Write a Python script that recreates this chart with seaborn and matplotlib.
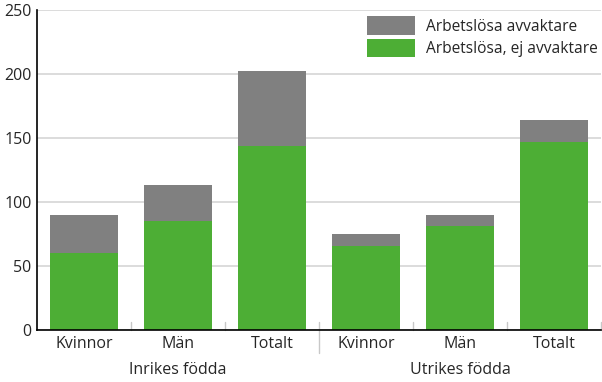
import pandas as pd
import numpy as np
import matplotlib
matplotlib.use("Agg")
import matplotlib.pyplot as plt
import seaborn as sns
from matplotlib.patches import Patch

# ==========================================
# Data
# ==========================================
groups = ["Inrikes födda", "Inrikes födda", "Inrikes födda",
          "Utrikes födda", "Utrikes födda", "Utrikes födda"]
categories = ["Kvinnor", "Män", "Totalt", "Kvinnor", "Män", "Totalt"]
ej_avvaktare = [60, 85, 144, 66, 81, 147]
avvaktare = [30, 28, 58, 9, 9, 17]

df = pd.DataFrame({
    "group": groups,
    "category": categories,
    "ej": ej_avvaktare,
    "avv": avvaktare,
})
df["key"] = df["group"] + "|" + df["category"]
df["total"] = df["ej"] + df["avv"]

green = "#4dae35"
grey = "#808080"

# ==========================================
# Plot
# ==========================================
sns.set_style("white")
plt.rcParams["font.family"] = ["Open Sans", "DejaVu Sans"]

fig = plt.figure(figsize=(6.02, 3.82), dpi=100)
ax = fig.add_axes([37 / 602, 52 / 382, 564 / 602, 320 / 382])

sns.barplot(data=df, x="key", y="total", color=grey, width=0.72,
            saturation=1, linewidth=0, ax=ax, zorder=3)
sns.barplot(data=df, x="key", y="ej", color=green, width=0.72,
            saturation=1, linewidth=0, ax=ax, zorder=4)

ax.set_xlim(-0.5, 5.5)
ax.set_ylim(0, 250)
ax.set_yticks(range(0, 251, 50))
ax.yaxis.grid(True, color="#d9d9d9", linewidth=1.3, zorder=0)
ax.set_axisbelow(True)
ax.set_xlabel("")
ax.set_ylabel("")

ax.set_xticks(range(len(df)))
ax.set_xticklabels(df["category"], fontsize=11.5)
ax.tick_params(axis="x", length=0, pad=4)
ax.tick_params(axis="y", length=0, pad=4, labelsize=11.5)

for s in ["top", "right"]:
    ax.spines[s].set_visible(False)
for s in ["left", "bottom"]:
    ax.spines[s].set_color("black")
    ax.spines[s].set_linewidth(1.2)
ax.spines["left"].set_zorder(5)
ax.spines["bottom"].set_zorder(5)

# separators between bars
trans = ax.get_xaxis_transform()
for b in [0.5, 1.5, 3.5, 4.5, 5.5]:
    ax.plot([b, b], [0, 0.025], transform=trans, color="#c8c8c8",
            linewidth=1, clip_on=False, zorder=2)
ax.plot([2.5, 2.5], [0.025, -0.072], transform=trans, color="#c8c8c8",
        linewidth=1, clip_on=False, zorder=2)

# group labels
group_names = ["Inrikes födda", "Utrikes födda"]
for i, g in enumerate(group_names):
    ax.text(1 + 3 * i, -0.125, g, transform=trans, ha="center", va="center",
            fontsize=11.5)

# legend
handles = [Patch(facecolor=grey, edgecolor="none", label="Arbetslösa avvaktare"),
           Patch(facecolor=green, edgecolor="none", label="Arbetslösa, ej avvaktare")]
leg = ax.legend(handles=handles, loc="upper right", bbox_to_anchor=(1.0, 0.99),
                frameon=True, facecolor="white", edgecolor="none",
                framealpha=1, fontsize=11.2, handlelength=3.1,
                handleheight=1.45, handletextpad=0.7, labelspacing=0.25,
                borderpad=0.2, borderaxespad=0)
leg.set_zorder(6)

fig.savefig("out.png", dpi=100)
